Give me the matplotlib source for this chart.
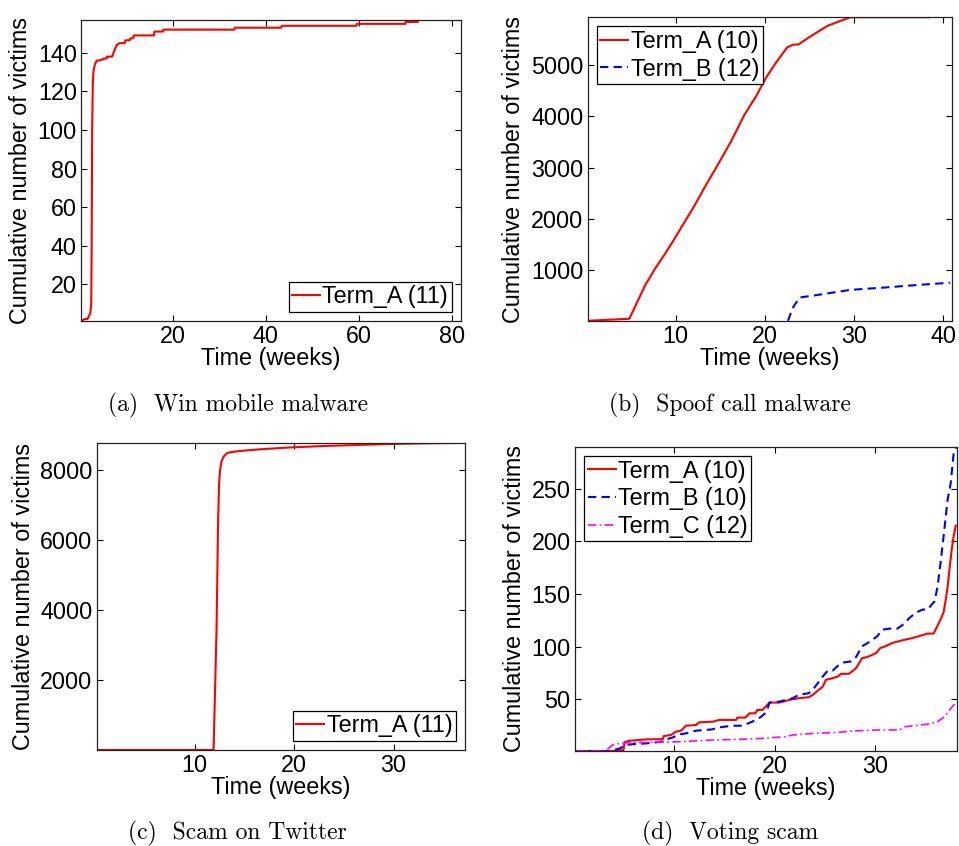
"""
Cumulative number of victims over time, four campaigns (2x2 panels).
Saves out.png (959x846).
"""

import matplotlib
matplotlib.use("Agg")
import matplotlib.pyplot as plt

W, H = 959, 846
SANS = ["Liberation Sans", "DejaVu Sans"]
SERIF = ["cmr10", "DejaVu Serif"]
FS = 16.8

# ── Data (weeks, cumulative victims) ─────────────────────────────────────── #

# (a) Win mobile malware
a_weeks = [0.2, 1.0, 1.6, 2.2, 2.4, 2.5, 2.6, 2.75, 2.9, 3.2, 3.6, 4.0, 4.9, 5.0,
           5.7, 5.8, 6.9, 7.5, 7.9, 8.5, 9.6, 9.8, 10.7, 10.8, 11.4, 11.6,
           15.9, 16.0, 17.8, 17.9, 33.2, 33.3, 43.3, 43.4, 59.5, 59.6,
           70.0, 70.1, 72.7, 72.8, 82.0]
a_term_a = [1, 2, 2, 5, 10, 40, 100, 125, 131, 134, 136, 136, 136.5, 137,
            137, 138, 138, 142, 144, 145, 145, 146.5, 146.5, 147.5, 147.5, 149,
            149, 151, 151, 152, 152, 153, 153, 154, 154, 155,
            155, 156, 156, 157, 157]

# (b) Spoof call malware
b_weeks_a = [0.1, 4.8, 5.7, 6.6, 7.7, 8.7, 9.8, 10.9, 12.05, 13.2, 14.7, 16.2,
             17.7, 19.1, 20.1, 21.2, 22.5, 23.1, 23.8, 24.8, 25.9, 27.0, 28.5,
             29.6, 38.4]
b_term_a = [5, 45, 380, 710, 1030, 1290, 1590, 1910, 2240, 2600, 3050, 3510,
            4030, 4420, 4750, 5040, 5350, 5400, 5410, 5530, 5650, 5770, 5870,
            5940, 5940]
b_weeks_b = [22.6, 23.1, 23.9, 25.9, 29.6, 33.4, 37.1, 40.8]
b_term_b = [5, 250, 460, 510, 610, 655, 705, 750]

# (c) Scam on Twitter
c_weeks = [0.15, 11.9, 12.2, 12.35, 12.45, 12.55, 12.7, 12.9, 13.2, 13.6, 14.6,
           16.5, 19.6, 23.0, 26.3, 30.0, 33.0, 37.2]
c_term_a = [1, 1, 3500, 6500, 7600, 8000, 8250, 8380, 8470, 8510, 8545,
            8590, 8645, 8685, 8715, 8745, 8762, 8775]

# (d) Voting scam
d_weeks_a = [0.15, 3.9, 4.6, 5.0, 5.1, 5.6, 7.2, 8.9, 9.0, 9.7, 10.2, 10.7, 11.2,
             12.2, 12.5, 13.9, 14.5, 16.2, 16.3, 17.1, 17.5, 18.1, 18.3, 18.8,
             19.5, 20.5, 21.5, 22.4, 23.4, 23.8, 24.4, 24.8, 25.1, 25.8, 26.3,
             26.6, 27.4, 28.1, 28.7, 29.2, 30.1, 30.5, 31.0, 31.7, 32.7, 33.7,
             34.3, 35.2, 35.8, 36.3, 36.6, 36.8, 37.0, 37.2, 37.4, 37.6, 37.8,
             38.0]
d_term_a = [1, 1, 2, 2, 9.5, 10.7, 12, 12.3, 15.2, 16.2, 19.3, 20.3, 25,
            25.7, 28.2, 28.9, 30.5, 30.5, 32.7, 32.7, 36.8, 36.8, 40, 40,
            47, 47, 49.6, 51.1, 52.1, 54.3, 59.1, 62.2, 68.6, 70.2, 71.8,
            74.3, 74.3, 79.7, 89.2, 90.2, 94, 98.8, 100.4, 103.6, 106.1, 108.3,
            109.9, 112.5, 112.5, 122, 128, 133, 144, 157, 175, 192, 205,
            215]
d_weeks_b = [0.15, 3.6, 4.6, 5.2, 5.9, 7.2, 8.7, 9.2, 9.9, 10.5, 11.2, 12.2, 13.8,
             14.5, 15.8, 16.8, 17.8, 18.6, 19.2, 19.5, 20.5, 21.8, 22.4, 23.4,
             23.8, 24.8, 25.3, 25.8, 26.4, 26.9, 27.6, 28.1, 28.7, 29.4, 30.2,
             30.7, 31.4, 32.2, 32.9, 33.4, 34.0, 34.7, 35.2, 35.9, 36.2, 36.5,
             36.8, 37.2, 37.5, 37.8, 38.1]
d_term_b = [1, 1, 3.4, 6.6, 7.5, 8.2, 9.7, 12, 13.9, 16.7, 17.7, 20.3, 21.5,
            23.4, 25, 25, 28.9, 33, 37.8, 47, 48, 51.1, 54.3, 55.9,
            59.1, 71.8, 77.5, 77.5, 82.9, 85.1, 86.1, 90.2, 100.4, 104.5, 109.9,
            116.2, 117.2, 117.2, 121.9, 127.3, 132.1, 135.3, 135.3, 143.2, 157, 180,
            205, 240, 255, 284, 290]
d_weeks_c = [0.15, 3.2, 3.9, 4.6, 5.6, 7.2, 10.5, 13.8, 17.1, 18.8, 21.1, 21.8,
             23.8, 26.4, 27.7, 30.4, 32.4, 33.0, 35.4, 36.2, 36.9, 37.4, 38.1]
d_term_c = [1, 1, 6.6, 8.2, 8.8, 9.2, 9.8, 11.4, 12.3, 13, 14.6, 16.2,
            17.7, 18.7, 20, 21, 21, 24.1, 26.7, 28.9, 33.6, 40, 48]

RED, BLUE, MAGENTA = "#ff0000", "#0000ff", "#ff00ff"


# ── Helpers ──────────────────────────────────────────────────────────────── #

def axes_px(fig, left, top, right, bottom):
    """Add axes from a pixel box (origin top-left)."""
    return fig.add_axes([left / W, (H - bottom) / H,
                         (right - left) / W, (bottom - top) / H])


def style(ax, xlim, ylim, xticks, yticks):
    ax.set_xlim(*xlim)
    ax.set_ylim(*ylim)
    ax.set_xticks(xticks)
    ax.set_yticks(yticks)
    ax.tick_params(direction="in", top=True, right=True, length=4, width=0.8,
                   labelsize=FS, pad=3)
    for lab in ax.get_xticklabels() + ax.get_yticklabels():
        lab.set_family(SANS)
    for sp in ax.spines.values():
        sp.set_linewidth(0.9)
        sp.set_color("#222222")
    ax.set_xlabel("Time (weeks)", fontsize=FS, family=SANS, labelpad=-1)
    ax.set_ylabel("Cumulative number of victims", fontsize=FS, family=SANS,
                  labelpad=4)


def legend(ax, loc):
    leg = ax.legend(loc=loc, fancybox=False, framealpha=1, edgecolor="black",
                    prop={"family": SANS, "size": FS}, handlelength=1.2,
                    handletextpad=0.1, labelspacing=0.2, borderpad=0.15,
                    borderaxespad=0.4)
    leg.get_frame().set_linewidth(0.9)


def caption(fig, x, y, text):
    fig.text(x / W, 1 - y / H, text, ha="center", va="center",
             family=SERIF, fontsize=17)


# ── Figure ───────────────────────────────────────────────────────────────── #

fig = plt.figure(figsize=(W / 100, H / 100), dpi=100)

# (a)
ax = axes_px(fig, 81, 20, 461, 321)
ax.plot(a_weeks, a_term_a, color=RED, lw=1.5, label="Term_A (11)")
style(ax, (0.2, 82), (1, 157), [20, 40, 60, 80], range(20, 141, 20))
legend(ax, "lower right")
caption(fig, 238, 405, "(a)  Win mobile malware")

# (b)
ax = axes_px(fig, 587.5, 17, 952, 321)
ax.plot(b_weeks_a, b_term_a, color=RED, lw=1.5, label="Term_A (10)")
ax.plot(b_weeks_b, b_term_b, color=BLUE, lw=1.5, ls=(0, (4, 2.5)),
        label="Term_B (12)")
style(ax, (0.1, 41), (1, 5945), [10, 20, 30, 40], range(1000, 5001, 1000))
legend(ax, "upper left")
caption(fig, 730, 405, "(b)  Spoof call malware")

# (c)
ax = axes_px(fig, 96.7, 442.7, 465.3, 750)
ax.plot(c_weeks, c_term_a, color=RED, lw=1.5, label="Term_A (11)")
style(ax, (0.15, 37.2), (1, 8780), [10, 20, 30], range(2000, 8001, 2000))
legend(ax, "lower right")
caption(fig, 237, 833, "(c)  Scam on Twitter")

# (d)
ax = axes_px(fig, 574.7, 446.7, 956.7, 751)
ax.plot(d_weeks_a, d_term_a, color=RED, lw=1.5, label="Term_A (10)")
ax.plot(d_weeks_b, d_term_b, color=BLUE, lw=1.5, ls=(0, (4, 2.5)),
        label="Term_B (10)")
ax.plot(d_weeks_c, d_term_c, color=MAGENTA, lw=1.2, ls=(0, (5, 2, 1, 2)),
        label="Term_C (12)")
style(ax, (0.15, 38.1), (1, 290), [10, 20, 30], range(50, 251, 50))
legend(ax, "upper left")
caption(fig, 730, 833, "(d)  Voting scam")

fig.savefig("out.png", dpi=100)
